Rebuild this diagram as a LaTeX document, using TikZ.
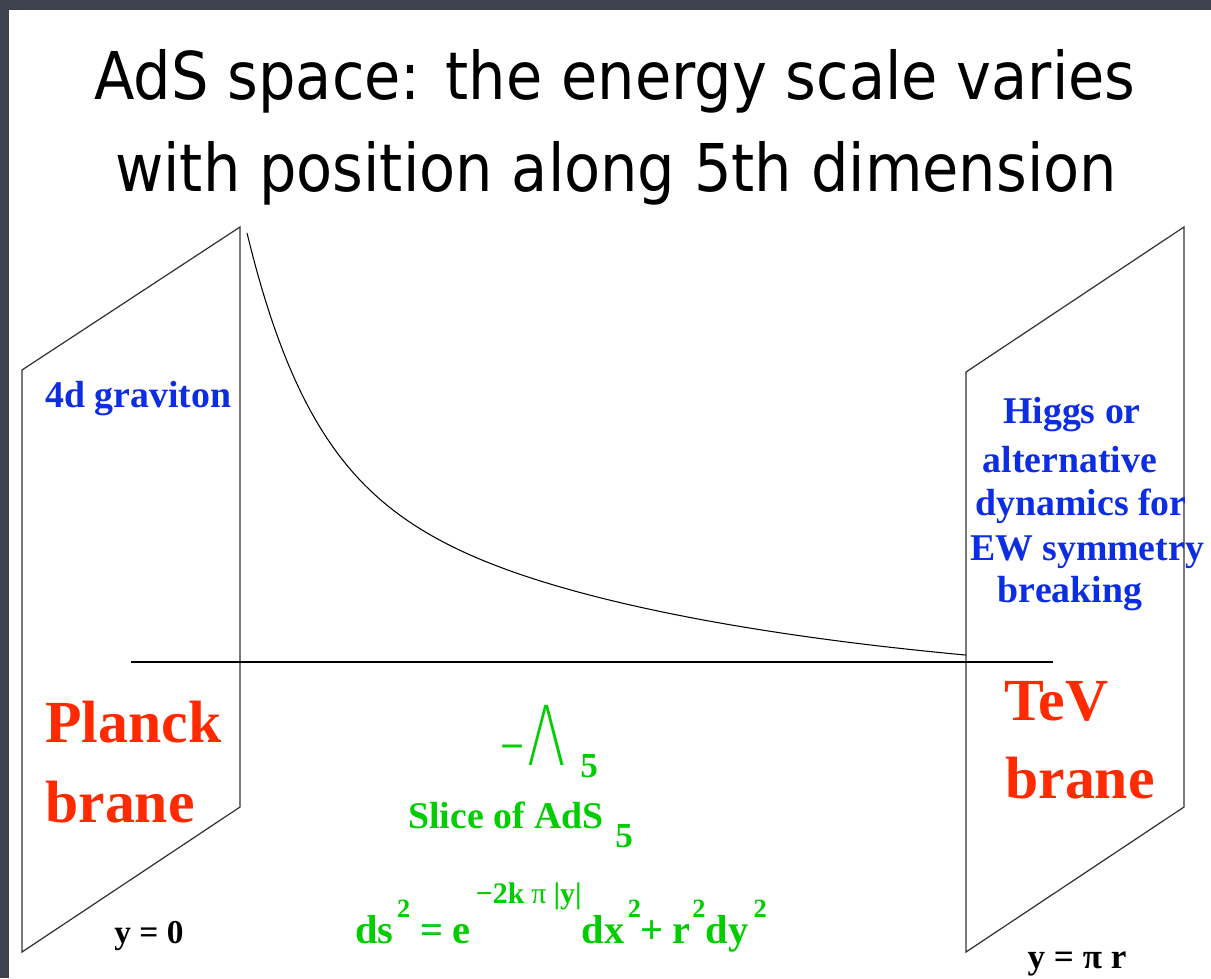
\documentclass[tikz,border=0pt]{standalone}
\usepackage{fontspec}
\setmainfont{Liberation Serif}
\newfontfamily\titlefont{DejaVu Sans}
\IfFontExistsTF{DejaVu Sans ExtraLight}
 {\newfontfamily\thinfont{DejaVu Sans ExtraLight}}
 {\newfontfamily\thinfont{Liberation Sans}}
\definecolor{slidebg}{RGB}{62,66,78}
\definecolor{braneblue}{RGB}{12,45,228}
\definecolor{branered}{RGB}{255,42,0}
\definecolor{bulkgreen}{RGB}{0,206,0}
\tikzset{
 lbl/.style={inner sep=0pt, font=\bfseries},
 bluelbl/.style={lbl, text=braneblue, font=\bfseries\fontsize{21.5}{24}\selectfont},
 redlbl/.style={lbl, text=branered, font=\bfseries\fontsize{34}{40}\selectfont},
 greenlbl/.style={lbl, text=bulkgreen},
 titlelbl/.style={inner sep=0pt, anchor=base, font=\titlefont\fontsize{30}{36}\selectfont},
 brane/.style={draw=black!80, line width=0.7pt, line join=miter}
}
\newcommand\supsq{\raisebox{14.7pt}{\fontsize{15}{15}\selectfont 2}}
\begin{document}
\begin{tikzpicture}[x=0.02cm,y=-0.02cm]
 \useasboundingbox (0,0) rectangle (1211,978);
 \fill[slidebg] (0,0) rectangle (1211,978);
 \fill[white] (9,10) rectangle (1211,978);
 % title
 \node[titlelbl] (title1) at (615,99) {\scalebox{1.12}[1.25]{AdS space: the energy scale varies}};
 \node[titlelbl] (title2) at (616,191) {\scalebox{1.12}[1.25]{with position along 5th dimension}};
 % the two branes
 \draw[brane] (22,370) -- (240,227) -- (240,807) -- (22,952) -- cycle;
 \draw[brane] (966,372) -- (1184,227) -- (1184,807) -- (966,952) -- cycle;
 \draw[line width=0.6pt] (131,662) -- (1053,662);
 % warp factor
 \draw[line width=0.6pt] plot[domain=0:719, samples=160, smooth]
  ({247+\x}, {662-(231*exp(-\x/65)+228*exp(-\x/395)-30)});
 % brane labels
 \node[bluelbl, anchor=base west] (graviton) at (45,407) {4d graviton};
 \foreach \txt/\xx/\yy [count=\i] in {Higgs or/1072/423, alternative/1070/472,
  dynamics for/1081/515, EW symmetry/1087/560, breaking/1070/602}
  \node[bluelbl, anchor=base] (higgs\i) at (\xx,\yy) {\txt};
 \node[redlbl, anchor=base west] (planck1) at (45,742) {Planck};
 \node[redlbl, anchor=base west] (planck2) at (45,822) {brane};
 \node[redlbl, anchor=base west] (tev1) at (1004,720) {TeV};
 \node[redlbl, anchor=base west] (tev2) at (1005,798) {brane};
 \node[lbl, anchor=base, font=\bfseries\fontsize{19}{22}\selectfont] (yzero) at (149,943) {y = 0};
 \node[lbl, anchor=base, font=\bfseries\fontsize{20}{22}\selectfont] (ypir) at (1077,968) {y = π r};
 % bulk
 \node[greenlbl, anchor=base west, font=\bfseries\fontsize{24}{26}\selectfont] (minus) at (500,760) {−};
 \node[greenlbl, anchor=base west, font=\thinfont\fontsize{47}{50}\selectfont] (lambda) at (527,765) {\scalebox{0.68}[1]{Λ}};
 \node[greenlbl, anchor=base west, font=\bfseries\fontsize{20}{22}\selectfont] (lsub) at (580,777) {5};
 \node[greenlbl, anchor=base west, font=\bfseries\fontsize{21.5}{24}\selectfont] (slice) at (408,828) {Slice of AdS};
 \node[greenlbl, anchor=base west, font=\bfseries\fontsize{20}{22}\selectfont] (slicesub) at (615,847) {5};
 \node[greenlbl, anchor=base west, font=\bfseries\fontsize{23}{26}\selectfont] (metric) at (355,943)
  {ds\kern2pt\supsq\kern6pt=\kern5pt e\kern3pt\raisebox{22.7pt}{\fontsize{17}{18}\selectfont −2k\kern4pt{\mdseries π}\kern4pt|y|}dx\kern2pt\supsq+\kern5pt r\kern1pt\supsq dy\kern3pt\supsq};
\end{tikzpicture}
\end{document}
